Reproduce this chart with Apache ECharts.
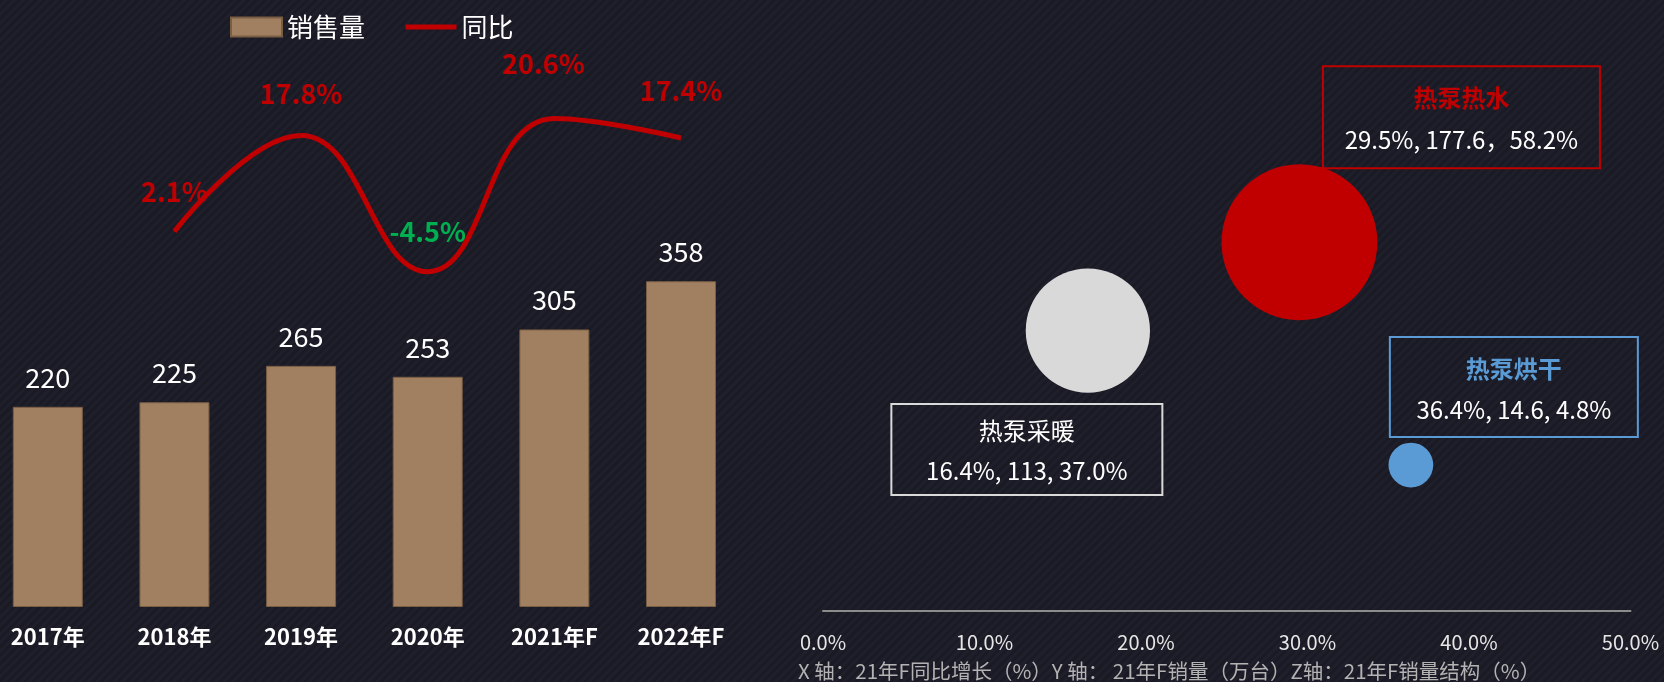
<!DOCTYPE html>
<html><head><meta charset="utf-8">
<script src="https://cdn.jsdelivr.net/npm/echarts@6/dist/echarts.min.js"></script>
<style>
html,body{margin:0;padding:0;width:1664px;height:682px;overflow:hidden;
background:#1c1c28 repeating-linear-gradient(135deg,#1a1a25 0px,#1a1a25 3px,#1f1f2b 3px,#1f1f2b 6px);}
#c{width:1664px;height:682px;}
</style></head><body><div id="c"></div>
<script>
// ---- data ----
const years = ['2017年','2018年','2019年','2020年','2021年F','2022年F'];
const sales = [220,225,265,253,305,358];
const yoy = [null,2.1,17.8,-4.5,20.6,17.4];
const bubbleNames = ['热泵采暖','热泵热水','热泵烘干'];
const bubbleGrowth = [16.4,29.5,36.4];
const bubbleSales = [113,177.6,14.6];
const bubbleShare = [37.0,58.2,4.8];
const bubbleSep = [', ', '，', ', '];
const xTicks = [0,10,20,30,40,50];
const axisNote = 'X 轴：21年F同比增长（%）Y 轴： 21年F销量（万台）Z轴：21年F销量结构（%）';

// ---- styles ----
const FONT = '"Noto Sans CJK SC","Noto Sans",sans-serif';
const bubbleColors = ['#d9d9d9','#c00000','#5b9bd5'];
const titleColors = ['#ffffff','#c00000','#5b9bd5'];
const titleWeights = ['normal','bold','bold'];
const boxLayout = [
  {offset:[-61,119], width:271, lh:40, pad:[7,0,4,0]},
  {offset:[162,-125], width:277, lh:42, pad:[11,0,7,0]},
  {offset:[103,-78], width:248, lh:41, pad:[11,0,7,0]}
];
const lineLabelExtra = [null,[0,0],[0,-2],[0,0],[-11,-15],[0,-7]];

const lineData = yoy.map((v,i)=>{
  if (v === null) return null;
  return {value:v, label:{color: v<0 ? '#00b050' : '#c00000', offset: lineLabelExtra[i]}};
});

const bubbleData = bubbleNames.map((n,i)=>({
  name:n,
  value:[bubbleGrowth[i], bubbleSales[i], bubbleShare[i]],
  itemStyle:{color:bubbleColors[i], opacity:1},
  label:{
    show:true, position:'inside', offset:boxLayout[i].offset,
    width:boxLayout[i].width, padding:boxLayout[i].pad,
    borderColor:bubbleColors[i], borderWidth:2, align:'center', verticalAlign:'middle',
    formatter: '{t|'+n+'}\n{v|'+bubbleGrowth[i].toFixed(1)+'%'+', '+bubbleSales[i]+bubbleSep[i]+bubbleShare[i].toFixed(1)+'%}',
    rich:{
      t:{color:titleColors[i], fontWeight:titleWeights[i], fontSize:24, lineHeight:boxLayout[i].lh, align:'center', fontFamily:FONT},
      v:{color:'#ffffff', fontSize:24, lineHeight:boxLayout[i].lh, align:'center', fontFamily:FONT}
    }
  }
}));

const chart = echarts.init(document.getElementById('c'), null, {renderer:'canvas'});
chart.setOption({
  backgroundColor:'transparent',
  animation:false,
  textStyle:{fontFamily:FONT},
  title:{text:axisNote, left:798, top:661, padding:0,
    textStyle:{color:'#b3b3b3', fontSize:20.5, fontWeight:'normal', fontFamily:FONT}},
  legend:{
    left:225, top:9, itemWidth:51, itemHeight:19, itemGap:38,
    textStyle:{color:'#ffffff', fontSize:26, fontFamily:FONT},
    data:[{name:'销售量', icon:'rect'},{name:'同比', itemStyle:{opacity:0}, lineStyle:{width:5}}]
  },
  grid:[
    {left:47.8, width:633.2, top:61, height:546},
    {left:823, width:807.5, top:143.3, height:467.7}
  ],
  xAxis:[
    {type:'category', gridIndex:0, data:years, boundaryGap:false,
     axisLine:{show:false}, axisTick:{show:false}, splitLine:{show:false},
     axisLabel:{color:'#ffffff', fontSize:22, fontWeight:'bold', margin:19, fontFamily:FONT}},
    {type:'value', gridIndex:1, min:xTicks[0], max:xTicks[xTicks.length-1], interval:xTicks[1]-xTicks[0],
     axisLine:{show:true, onZero:false, lineStyle:{color:'#8c8c8c', width:2}}, axisTick:{show:false}, splitLine:{show:false},
     axisLabel:{color:'#e6e6e6', fontSize:20, margin:21, fontFamily:FONT, formatter:v=>v.toFixed(1)+'%'}}
  ],
  yAxis:[
    {type:'value', gridIndex:0, min:0, max:600, show:false},
    {type:'value', gridIndex:0, min:-59.4, max:30, show:false},
    {type:'value', gridIndex:1, min:-92.2, max:250, show:false}
  ],
  series:[
    {name:'销售量', type:'bar', xAxisIndex:0, yAxisIndex:0, data:sales, barWidth:70, clip:false,
     itemStyle:{color:'#a08060', borderColor:'#7a5e44', borderWidth:1},
     label:{show:true, position:'top', distance:16, color:'#ffffff', fontSize:27, fontFamily:FONT}},
    {name:'同比', type:'line', xAxisIndex:0, yAxisIndex:1, data:lineData, smooth:0.45, clip:false,
     symbol:'circle', symbolSize:1, showSymbol:true, color:'#c00000',
     lineStyle:{color:'#c00000', width:5},
     label:{show:true, position:'top', distance:26, fontSize:27, fontWeight:'bold', fontFamily:FONT,
       formatter:p=>p.value.toFixed(1)+'%'}},
    {name:'bubbles', type:'scatter', xAxisIndex:1, yAxisIndex:2, data:bubbleData, clip:false,
     symbolSize:v=>20.43*Math.sqrt(v[2])}
  ]
});
</script></body></html>
